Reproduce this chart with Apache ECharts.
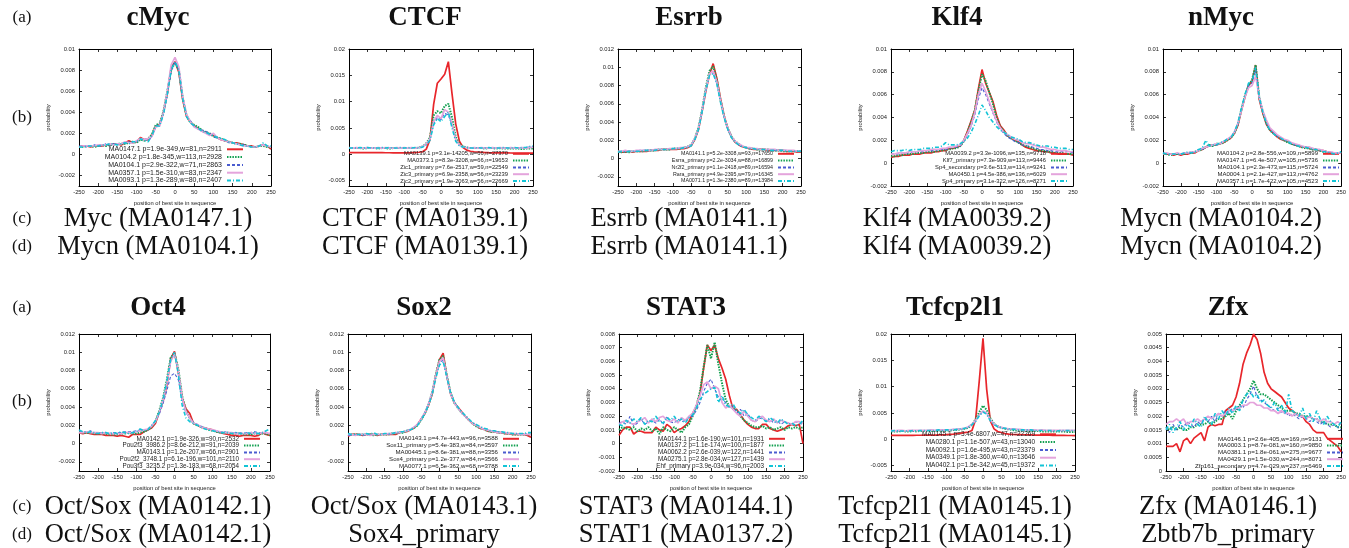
<!DOCTYPE html>
<html><head><meta charset="utf-8">
<script src="https://cdn.jsdelivr.net/npm/echarts@6/dist/echarts.min.js"></script>
<style>html,body{margin:0;padding:0;background:#fff}#c{width:1349px;height:548px}</style>
</head><body><div id="c"></div>
<script>
// ---------------- DATA (values in units of 1e-4) ----------------
const positions = [-250,-240,-230,-220,-210,-200,-190,-180,-170,-160,-150,-140,-130,-120,-110,-100,-90,-80,-70,-60,-50,-40,-30,-20,-10,0,10,20,30,40,50,60,70,80,90,100,110,120,130,140,150,160,170,180,190,200,210,220,230,240,250];
const xTicks = [-250,-200,-150,-100,-50,0,50,100,150,200,250];

const titles = ["cMyc","CTCF","Esrrb","Klf4","nMyc","Oct4","Sox2","STAT3","Tcfcp2l1","Zfx"];
const captionC = ["Myc (MA0147.1)","CTCF (MA0139.1)","Esrrb (MA0141.1)","Klf4 (MA0039.2)","Mycn (MA0104.2)","Oct/Sox (MA0142.1)","Oct/Sox (MA0143.1)","STAT3 (MA0144.1)","Tcfcp2l1 (MA0145.1)","Zfx (MA0146.1)"];
const captionD = ["Mycn (MA0104.1)","CTCF (MA0139.1)","Esrrb (MA0141.1)","Klf4 (MA0039.2)","Mycn (MA0104.2)","Oct/Sox (MA0142.1)","Sox4_primary","STAT1 (MA0137.2)","Tcfcp2l1 (MA0145.1)","Zbtb7b_primary"];

const yTicksCMyc = [-0.002,0,0.002,0.004,0.006,0.008,0.01];
const yTicksCTCF = [-0.005,0,0.005,0.01,0.015,0.02];
const yTicksEsrrb = [-0.002,0,0.002,0.004,0.006,0.008,0.01,0.012];
const yTicksKlf4 = [-0.002,0,0.002,0.004,0.006,0.008,0.01];
const yTicksNMyc = [-0.002,0,0.002,0.004,0.006,0.008,0.01];
const yTicksOct4 = [-0.002,0,0.002,0.004,0.006,0.008,0.01,0.012];
const yTicksSox2 = [-0.002,0,0.002,0.004,0.006,0.008,0.01,0.012];
const yTicksSTAT3 = [-0.002,-0.001,0,0.001,0.002,0.003,0.004,0.005,0.006,0.007,0.008];
const yTicksTcf = [-0.005,0,0.005,0.01,0.015,0.02];
const yTicksZfx = [0,0.0005,0.001,0.0015,0.002,0.0025,0.003,0.0035,0.004,0.0045,0.005];
const yRanges = [[-0.003,0.01],[-0.006,0.02],[-0.003,0.012],[-0.002,0.01],[-0.002,0.01],[-0.003,0.012],[-0.003,0.012],[-0.002,0.008],[-0.006,0.02],[0,0.005]];

const cMycNames = ["MA0147.1 p=1.9e-349,w=81,n=2911","MA0104.2 p=1.8e-345,w=113,n=2928","MA0104.1 p=2.9e-322,w=71,n=2863","MA0357.1 p=1.5e-310,w=83,n=2347","MA0093.1 p=1.3e-289,w=80,n=2407"];
const cMyc1 = [7,8,8,7,8,8,8,9,9,10, 10,9,11,13,11,12,16,14,14,18, 27,28,40,58,82,88,78,52,36,31, 27,25,22,21,19,18,16,14,13,12, 11,11,10,9,8,8,7,8,9,8,5];
const cMyc2 = [7,7,8,8,7,8,9,8,9,9, 10,10,10,11,12,11,14,13,15,19, 28,29,41,60,80,87,80,54,37,30, 28,26,23,21,20,17,16,15,13,12, 11,10,10,9,8,7,7,8,8,7,7];
const cMyc3 = [8,8,7,8,9,8,8,10,9,10, 9,11,10,12,11,12,15,15,13,17, 26,29,39,56,79,88,80,53,37,32, 27,24,23,22,20,17,15,15,13,11, 11,10,9,9,8,7,7,8,9,8,7];
const cMyc4 = [7,8,8,8,8,9,9,9,10,9, 10,10,12,11,11,13,15,14,15,17, 26,27,40,60,85,92,83,55,38,31, 26,24,22,20,18,20,16,14,13,12, 11,10,9,8,8,7,7,8,9,8,7];
const cMyc5 = [7,7,8,8,8,8,9,9,10,10, 9,10,11,10,12,12,15,13,12,18, 27,27,38,57,80,88,80,53,36,30, 27,25,22,21,19,18,16,15,14,12, 11,10,9,8,8,7,7,8,11,8,8];

const ctcfNames = ["MA0139.1 p=3.1e-14205,w=66,n=27370","MA0373.1 p=8.3e-3208,w=66,n=19653","Zic1_primary p=7.6e-2517,w=59,n=22549","Zic3_primary p=6.9e-2358,w=56,n=23239","Zic2_primary p=1.9e-2063,w=56,n=22669"];
const ctcf1 = [3.5,3.5,3.4,3.4,3.3,3.3,3.3,3.2,3.2,3.2, 3.1,3.1,3,3,3,3,3,3.2,3.5,4, 5,10,28,95,135,143,152,176,115,58, 25,13,8,6,5,4.5,4,3.5,3.2,3, 3,2.8,2.8,2.7,2.6,2.5,2.5,2.4,2.4,2.3,2.3];
const ctcf2 = [12,12,12,12,11,12,12,12,11,12, 12,11,12,12,12,12,12,12,12,13, 15,21,32,74,82,78,92,96,70,33, 19,15,13,12,12,12,12,11,12,12, 11,12,11,11,11,11,11,10,11,11,11];
const ctcf3 = [12,13,12,13,12,12,13,12,12,13, 12,12,13,12,12,13,12,12,13,13, 15,19,28,58,70,66,78,75,55,27, 17,14,13,13,12,13,12,13,12,12, 13,12,12,13,12,12,13,12,13,14,15];
const ctcf4 = [13,12,13,12,12,13,12,12,13,12, 13,12,12,13,12,13,12,13,12,13, 15,20,29,62,74,68,85,80,58,28, 18,14,13,12,13,12,13,12,12,13, 12,13,12,12,13,12,12,13,12,13,14];
const ctcf5 = [12,12,12,13,12,13,12,12,12,13, 12,13,12,12,13,12,13,12,13,12, 14,18,27,56,68,62,72,80,50,25, 16,14,13,12,12,13,12,12,13,12, 12,12,13,12,12,13,12,13,13,15,16];

const esrrbNames = ["MA0141.1 p=5.2e-3308,w=93,n=17650","Esrra_primary p=2.2e-3034,w=88,n=16899","Nr2f2_primary p=1.1e-2418,w=89,n=16594","Rara_primary p=4.9e-2395,w=79,n=16345","MA0071.1 p=1.3e-2380,w=89,n=13984"];
const esrrb1 = [7,7,7,8,7,8,8,8,8,9, 9,9,10,10,10,10,10,11,11,12, 14,21,32,52,74,92,104,88,66,47, 33,24,18,15,13,12,11,10,10,10, 10,9,9,9,9,9,8,8,8,7,7];
const esrrb2 = [8,7,8,7,8,8,8,8,9,9, 9,10,10,10,10,11,11,11,12,13, 15,22,34,54,78,96,101,86,64,46, 33,24,19,16,13,12,11,11,10,10, 10,10,9,9,9,8,8,8,8,8,8];
const esrrb3 = [8,8,8,8,8,8,9,9,9,9, 10,10,10,10,11,11,11,11,12,13, 15,22,33,52,75,92,94,82,63,45, 32,24,18,15,13,12,11,11,10,10, 10,10,10,9,9,9,9,8,8,8,8];
const esrrb4 = [8,8,9,8,8,9,9,9,9,9, 10,10,10,10,11,11,11,12,12,13, 15,22,33,53,76,93,96,84,64,46, 33,24,19,16,14,12,12,11,11,10, 10,10,10,10,9,9,9,9,9,8,8];
const esrrb5 = [7,8,7,8,8,8,8,9,9,9, 9,10,10,10,10,11,11,11,12,12, 14,21,32,52,75,91,93,82,62,45, 32,23,18,15,13,12,11,11,10,10, 10,9,9,9,9,9,8,8,8,8,8];

const klf4Names = ["MA0039.2 p=3.3e-1096,w=135,n=9718","Klf7_primary p=7.3e-909,w=113,n=9446","Sp4_secondary p=3.6e-513,w=114,n=9241","MA0450.1 p=4.5e-386,w=136,n=6029","Sp4_primary p=3.1e-322,w=126,n=8271"];
const klf41 = [5,6,6,7,7,7,8,8,8,9, 9,9,10,10,11,11,13,13,14,15, 20,28,37,46,65,82,70,62,54,42, 33,29,24,22,20,19,16,14,13,12, 11,11,10,10,9,9,8,8,8,8,7];
const klf42 = [6,6,7,7,8,8,8,9,9,9, 10,10,10,11,11,12,12,13,13,15, 19,27,36,46,63,78,72,62,52,40, 32,28,24,22,20,18,16,15,14,13, 12,11,11,10,10,9,9,9,8,8,8];
const klf43 = [8,8,8,9,9,9,10,10,10,10, 11,11,11,12,12,12,13,14,14,15, 19,25,32,42,56,66,60,52,44,36, 30,26,23,21,19,18,16,15,15,14, 13,12,12,11,11,10,10,10,10,10,9];
const klf44 = [8,8,9,9,9,10,10,10,11,11, 11,12,12,12,13,13,14,14,15,16, 20,26,33,44,60,70,63,54,45,37, 31,27,25,23,21,20,18,17,17,16, 15,14,14,13,12,12,11,11,11,10,10];
const klf45 = [10,11,11,11,12,11,12,12,12,13, 13,13,14,14,15,18,16,16,16,17, 19,22,27,34,42,51,46,40,36,32, 29,27,25,23,22,21,19,18,18,17, 16,15,15,15,14,14,13,13,13,12,12];

const nMycNames = ["MA0104.2 p=2.8e-556,w=109,n=5899","MA0147.1 p=6.4e-507,w=105,n=5736","MA0104.1 p=2.3e-473,w=115,n=5724","MA0004.1 p=2.1e-427,w=113,n=4762","MA0357.1 p=1.7e-422,w=105,n=4523"];
const nMyc1 = [8,8,8,7,8,7,8,8,9,9, 11,12,14,15,16,16,17,18,20,22, 26,33,46,58,68,72,86,56,44,34, 29,26,23,21,20,19,17,16,15,14, 14,13,12,12,11,11,10,9,8,9,9];
const nMyc2 = [8,8,7,8,8,8,8,9,9,10, 11,12,14,16,15,17,17,18,20,22, 26,34,47,59,68,73,86,58,45,35, 29,26,24,22,20,18,17,16,15,14, 13,13,12,12,11,10,10,9,9,9,9];
const nMyc3 = [9,8,8,8,8,8,9,9,9,10, 12,12,14,15,16,16,17,19,21,23, 27,34,47,58,68,70,82,57,45,36, 30,27,24,22,21,19,18,16,16,15, 14,14,13,12,12,11,10,10,9,9,9];
const nMyc4 = [8,9,8,8,9,8,9,9,10,10, 11,13,14,15,16,17,17,19,21,23, 27,35,46,58,66,68,76,58,46,38, 31,28,25,23,21,20,18,17,16,15, 14,14,13,12,12,11,10,10,9,9,9];
const nMyc5 = [9,8,8,8,8,8,9,10,9,10, 12,13,20,15,16,16,18,19,21,22, 27,35,48,60,70,72,84,58,45,35, 29,26,23,22,20,19,17,16,15,14, 14,13,12,12,11,10,10,9,8,9,10];

const oct4Names = ["MA0142.1 p=1.9e-326,w=90,n=2532","Pou2f3_3986.2 p=8.6e-212,w=91,n=2039","MA0143.1 p=1.2e-207,w=66,n=2901","Pou2f2_3748.1 p=6.1e-196,w=101,n=2110","Pou3f3_3235.2 p=1.3e-183,w=68,n=2054"];
const oct41 = [12,11,12,11,10,10,10,9,9,9, 8,9,8,7,10,10,10,13,15,17, 22,34,46,64,93,101,78,50,38,33, 22,20,18,17,16,15,13,12,11,10, 9,9,8,9,9,9,8,9,12,10,9];
const oct42 = [13,12,12,12,11,11,11,11,10,10, 10,11,11,12,11,11,12,13,15,18, 24,36,50,70,94,99,82,52,36,28, 22,20,18,17,15,14,13,12,12,12, 11,11,11,10,10,10,11,10,11,11,9];
const oct43 = [14,13,13,14,12,12,12,12,11,12, 12,12,13,13,13,14,15,15,16,19, 25,32,44,58,74,77,70,48,34,28, 23,21,19,17,16,15,14,13,13,12, 12,12,12,11,12,12,13,12,12,12,11];
const oct44 = [12,12,13,12,12,12,11,12,11,11, 11,11,12,12,12,13,14,15,16,19, 24,34,48,66,90,98,80,50,35,28, 22,21,18,17,16,15,14,13,12,12, 12,11,11,11,11,12,11,11,12,12,11];
const oct45 = [15,13,12,13,12,11,12,12,11,12, 11,13,12,11,12,13,16,14,15,20, 25,34,48,68,92,100,76,42,28,24, 22,20,18,16,15,14,13,12,12,12, 11,12,11,11,12,11,12,11,12,14,16];

const sox2Names = ["MA0143.1 p=4.7e-443,w=96,n=3588","Sox11_primary p=5.4e-383,w=84,n=3597","MA00445.1 p=8.6e-381,w=88,n=3356","Sox4_primary p=1.2e-377,w=84,n=3566","MA0077.1 p=6.5e-362,w=68,n=3788"];
const sox21 = [8,10,10,10,9,10,10,10,9,10, 10,10,10,10,12,13,13,15,17,21, 27,33,42,54,75,92,99,74,55,45, 40,35,30,26,22,20,17,16,14,13, 13,12,12,11,11,10,10,10,10,9,7];
const sox22 = [10,10,10,10,10,10,10,9,10,10, 10,10,11,11,12,12,14,15,17,20, 26,33,43,56,76,92,96,75,56,45, 39,34,30,26,22,19,17,16,14,13, 13,12,12,11,11,10,10,10,10,10,10];
const sox23 = [9,9,10,10,9,10,10,10,10,10, 11,10,11,12,12,13,14,16,18,21, 27,34,44,56,74,88,92,74,56,46, 40,34,30,26,23,20,18,16,15,14, 13,13,12,12,11,11,11,10,11,10,10];
const sox24 = [10,10,9,10,10,10,9,10,10,10, 10,11,11,12,12,13,14,15,18,21, 27,34,43,56,75,90,94,74,55,45, 39,34,30,26,22,20,18,16,15,14, 13,12,12,12,11,11,11,10,10,10,10];
const sox25 = [11,10,10,10,10,11,10,12,10,10, 11,11,11,12,13,13,14,15,17,20, 26,33,42,54,72,86,90,73,56,46, 40,35,31,27,23,21,19,17,16,14, 14,13,13,12,12,11,11,11,11,12,12];

const stat3Names = ["MA0144.1 p=1.6e-190,w=101,n=1931","MA0137.2 p=1.1e-174,w=100,n=1877","MA0062.2 p=2.6e-039,w=122,n=1441","MA0275.1 p=2.8e-034,w=127,n=1439","Ehf_primary p=3.9e-034,w=96,n=2003"];
const stat31 = [6,10,12,12,7,9,9,8,8,8, 12,10,9,14,12,8,10,11,13,16, 22,27,36,55,72,68,72,62,55,47, 35,25,25,21,17,14,12,11,11,14, 14,11,10,9,10,11,13,14,13,14,0];
const stat32 = [10,12,11,10,12,9,11,10,12,9, 11,7,12,10,9,12,10,8,12,14, 20,27,38,56,72,62,74,58,44,32, 27,26,24,20,17,15,13,12,12,13, 11,12,10,11,12,10,12,11,12,11,12];
const stat33 = [15,16,14,20,13,15,18,14,16,17, 15,18,14,20,16,15,18,16,17,19, 20,24,30,38,44,47,40,34,32,30, 26,27,22,25,20,22,17,16,18,19, 16,18,15,17,14,16,15,14,16,15,14];
const stat34 = [14,16,17,15,14,16,17,19,15,18, 16,19,20,17,16,18,15,19,17,20, 22,28,35,43,45,40,42,40,30,26, 28,25,22,20,24,20,17,16,19,20, 17,16,18,15,17,16,15,14,16,16,15];
const stat35 = [14,13,17,15,18,16,19,14,17,16, 20,16,15,19,17,20,16,18,15,19, 21,26,32,36,38,40,41,30,35,28, 27,29,24,22,25,21,19,17,20,18, 16,19,17,15,18,16,14,15,13,14,17];

const tcfNames = ["MA0145.1 p=3.4e-6807,w=47,n=22269","MA0280.1 p=1.1e-507,w=43,n=13040","MA0092.1 p=1.6e-495,w=43,n=23379","MA0349.1 p=1.8e-360,w=40,n=13646","MA0402.1 p=1.5e-342,w=45,n=19372"];
const tcf1 = [7.5,7.5,7.6,7.5,7.7,7.6,7.7,7.8,7.8,7.9, 8,8,8.2,8.4,8.6,9,9.5,10,11,12, 13,14,17,38,112,192,95,35,20,15, 13,11,10,9.5,9.2,9,8.8,8.6,8.4,8.2, 8,8,7.8,7.8,7.6,7.6,7.5,7.5,7.4,7.4,7.3];
const tcf2 = [15,15,15,16,15,15,16,15,16,16, 16,16,16,16,17,17,17,18,18,19, 20,22,28,38,52,64,56,40,30,25, 22,20,19,18,17,17,17,16,16,16, 16,15,15,15,15,15,15,15,14,14,14];
const tcf3 = [16,16,16,16,16,17,16,17,17,17, 17,17,17,17,18,18,18,19,19,20, 21,23,28,35,46,53,49,36,28,24, 22,21,20,19,19,18,18,18,17,17, 17,17,17,17,16,17,16,17,16,17,17];
const tcf4 = [17,16,17,17,16,17,17,17,17,17, 17,18,17,18,18,18,18,19,19,20, 21,24,29,36,47,54,50,37,29,25, 23,21,20,20,19,19,18,18,18,18, 17,18,17,17,17,17,17,17,17,17,17];
const tcf5 = [16,17,16,16,16,16,17,16,17,17, 17,17,17,18,17,18,18,18,19,20, 21,23,28,34,45,52,48,35,28,24, 22,21,20,19,19,18,18,18,18,17, 17,17,17,17,17,16,17,17,17,17,17];

const zfxNames = ["MA0146.1 p=2.6e-405,w=169,n=9131","MA0003.1 p=8.7e-081,w=160,n=9850","MA0381.1 p=1.8e-061,w=275,n=9677","MA0429.1 p=1.5e-030,w=244,n=8071","Zfp161_secondary p=4.7e-029,w=237,n=6469"];
const zfx1 = [9,9,9,10,7,11,12,10,12,13, 14,11,16,17,16.5,17,17,22,23,24, 27,32,39,43,46,50,48,43,36,32, 30,29,28,27,25,23,22,21,20,20, 18,17,15,14,14,14,12,11,10,9,7];
const zfx2 = [16,15,16,15,16,15,15,16,16,17, 17,17,18,17,18,19,19,20,21,19, 22,24,26,28,30,33,30,28,28,27, 26,25,24,23,22,22,22,21,21,20, 20,20,19,19,18,18,17,17,17,16,16];
const zfx3 = [16,14,17,15,17,16,18,17,16,18, 17,19,18,20,18,21,20,22,21,23, 22,24,23,26,28,31,27,26,25,24, 23,22,23,21,22,20,21,20,19,20, 19,18,19,18,17,18,17,16,17,16,15];
const zfx4 = [17,18,18,19,18,19,17,18,18,19, 18,19,20,19,20,21,20,21,22,22, 23,23,24,24,25,25,24,24,23,23, 22,22,21,22,21,21,20,21,20,20, 19,20,19,19,18,19,18,18,17,18,17];
const zfx5 = [15,17,14,16,18,15,17,16,19,17, 16,20,18,17,21,19,22,20,23,21, 24,22,26,28,29,27,28,25,26,24, 23,25,22,24,21,28,22,21,20,23, 19,21,18,22,19,17,20,18,17,16,18];

// ---------------- BUILD ----------------
const panelNames = [cMycNames,ctcfNames,esrrbNames,klf4Names,nMycNames,oct4Names,sox2Names,stat3Names,tcfNames,zfxNames];
const panelValues = [
  [cMyc1,cMyc2,cMyc3,cMyc4,cMyc5],[ctcf1,ctcf2,ctcf3,ctcf4,ctcf5],[esrrb1,esrrb2,esrrb3,esrrb4,esrrb5],
  [klf41,klf42,klf43,klf44,klf45],[nMyc1,nMyc2,nMyc3,nMyc4,nMyc5],[oct41,oct42,oct43,oct44,oct45],
  [sox21,sox22,sox23,sox24,sox25],[stat31,stat32,stat33,stat34,stat35],[tcf1,tcf2,tcf3,tcf4,tcf5],[zfx1,zfx2,zfx3,zfx4,zfx5]];
const panelYTicks = [yTicksCMyc,yTicksCTCF,yTicksEsrrb,yTicksKlf4,yTicksNMyc,yTicksOct4,yTicksSox2,yTicksSTAT3,yTicksTcf,yTicksZfx];

// layout (pixels)
const W = 1349, H = 548;
const boxX = [[79,271],[349,533],[618,801],[891,1073],[1163,1345],[79,270],[348,531],[619,803],[891,1075],[1166,1348]];
const rowTop = [49,334], plotH = 137;
const legEnd = [244,530,795,1068,1340,261,520,786,1057,1344];
const legFont = [7,5.8,5.3,5.8,6.0,6.3,6.1,6.3,6.5,6.2];
const colCenter = [158,425,689,957,1221,158,424,686,955,1228];

const styles = [
  {color:'#e8262b', width:1.7, type:'solid'},
  {color:'#12a050', width:2, type:[1.5,1.2]},
  {color:'#4a5cd0', width:1.1, type:[3,2]},
  {color:'#e4a4dc', width:1.7, type:'solid'},
  {color:'#12c4d6', width:1.6, type:[4,2,1,2]}
];
const fmt = v => String(parseFloat(Number(v).toPrecision(8)));

const grids=[], xAxes=[], yAxes=[], series=[], legends=[], graphics=[];
for (let p=0;p<10;p++){
  const row = p<5?0:1;
  const [x0,x1] = boxX[p];
  grids.push({left:x0, top:rowTop[row], width:x1-x0, height:plotH, containLabel:false});
  const axLine = {show:true, onZero:false, lineStyle:{color:'#000', width:1}};
  const tick = {show:true, inside:true, length:3, lineStyle:{color:'#000', width:0.8}};
  xAxes.push({gridIndex:p, type:'value', min:-250, max:250, interval:50, axisLine:axLine, axisTick:tick,
    splitLine:{show:false}, axisLabel:{fontFamily:'Liberation Sans', fontSize:5.8, color:'#222', margin:3.5, formatter:fmt, showMinLabel:true, showMaxLabel:true},
    name:'position of best site in sequence', nameLocation:'middle', nameGap:14,
    nameTextStyle:{fontFamily:'Liberation Sans', fontSize:5.8, color:'#222'}});
  xAxes.push({gridIndex:p, type:'value', position:'top', min:-250, max:250, interval:50, axisLine:axLine, axisTick:tick,
    splitLine:{show:false}, axisLabel:{show:false}});
  const yt = panelYTicks[p];
  const [ymin,ymax] = yRanges[p];
  yAxes.push({gridIndex:p, type:'value', min:ymin, max:ymax, axisLine:axLine,
    axisTick:Object.assign({customValues:yt}, tick), splitLine:{show:false},
    axisLabel:{customValues:yt, fontFamily:'Liberation Sans', fontSize:5.8, color:'#222', margin:4, formatter:fmt},
    name:'probability', nameLocation:'middle', nameGap:28, nameRotate:90,
    nameTextStyle:{fontFamily:'Liberation Sans', fontSize:5.8, color:'#222'}});
  yAxes.push({gridIndex:p, type:'value', position:'right', min:ymin, max:ymax, axisLine:axLine,
    axisTick:Object.assign({customValues:yt}, tick), splitLine:{show:false}, axisLabel:{show:false}});
  const names = panelNames[p], vals = panelValues[p];
  for (let k=0;k<5;k++){
    const st = styles[k];
    series.push({type:'line', name:names[k], xAxisIndex:2*p, yAxisIndex:2*p, symbol:'none', showSymbol:false,
      animation:false, silent:true, z:2+k,
      lineStyle:{color:st.color, width:st.width, type:st.type}, itemStyle:{color:st.color, opacity:0},
      data: positions.map((x,i)=>[x, vals[k][i]*1e-4])});
  }
  const bottom = row===0 ? 186 : 471;
  legends.push({show:true, orient:'vertical', align:'right', right: W-legEnd[p], bottom: H-bottom+2,
    itemWidth:16, itemHeight:5, itemGap:0.8, padding:0, selectedMode:false,
    itemStyle:{opacity:0, borderWidth:0},
    textStyle:{fontFamily:'Liberation Sans', fontSize:legFont[p], color:'#222', lineHeight:6, padding:[0,0,0,0]},
    data:names});
  const tY = row===0 ? 18 : 308;
  graphics.push({x:colCenter[p], y:tY, style:{text:titles[p], font:'bold 27px "Liberation Serif"', fill:'#111', align:'center', verticalAlign:'middle'}});
  const cY = row===0 ? 219 : 507;
  graphics.push({x:colCenter[p], y:cY, style:{text:captionC[p], font:'26.5px "Liberation Serif"', fill:'#111', align:'center', verticalAlign:'middle'}});
  graphics.push({x:colCenter[p], y:cY+28, style:{text:captionD[p], font:'26.5px "Liberation Serif"', fill:'#111', align:'center', verticalAlign:'middle'}});
}
const rowLabels = [['(a)',18],['(b)',118],['(c)',219],['(d)',247],['(a)',308],['(b)',402],['(c)',507],['(d)',535]];
rowLabels.forEach(([t,y])=>graphics.push({x:22, y:y, style:{text:t, font:'17px "Liberation Serif"', fill:'#111', align:'center', verticalAlign:'middle'}}));
const g2 = graphics.map(g=>({type:'text', x:g.x, y:g.y, style:g.style, silent:true}));

const chart = echarts.init(document.getElementById('c'), null, {renderer:'canvas'});
chart.setOption({animation:false, backgroundColor:'#fff', grid:grids, xAxis:xAxes, yAxis:yAxes, series:series, legend:legends, graphic:{elements:g2}});
</script></body></html>
